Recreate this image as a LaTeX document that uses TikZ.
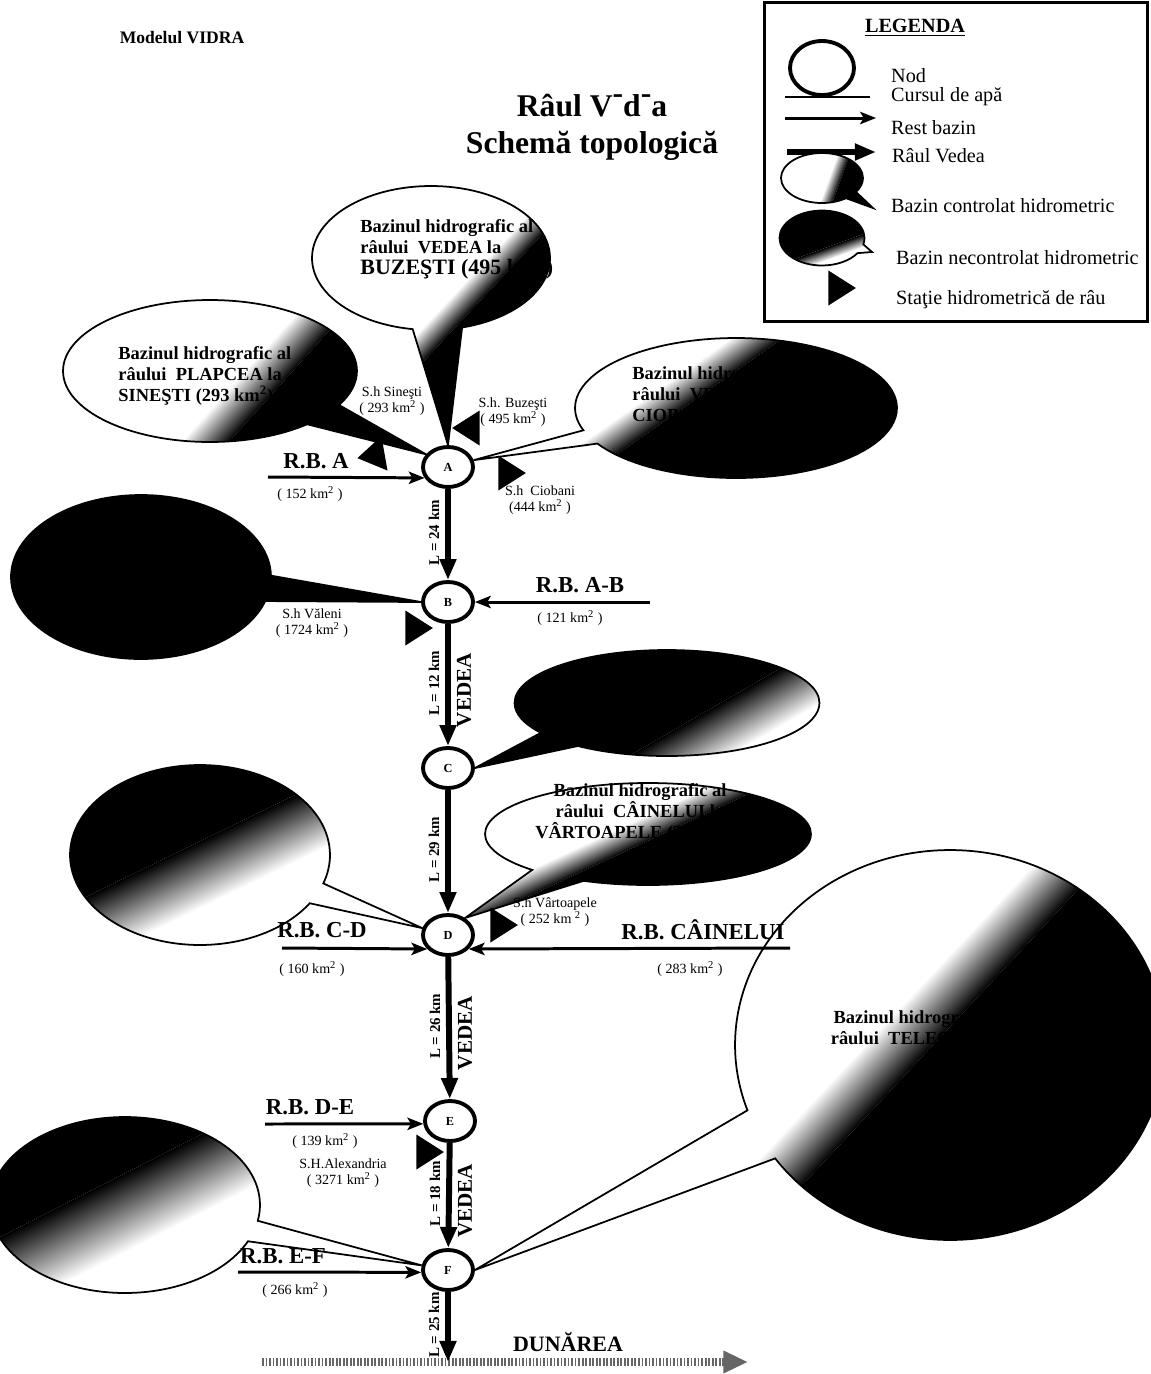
\documentclass[tikz,border=0pt]{standalone}
\usepackage{fontspec}
\setmainfont{Liberation Serif}
\usetikzlibrary{positioning, arrows.meta, shapes.geometric, shapes.callouts, backgrounds}

\begin{document}
\begin{tikzpicture}[x=0.02cm, y=-0.02cm,
  nod/.style={ellipse, draw, line width=2.2pt, fill=white, minimum width=1cm, minimum height=0.8cm, inner sep=0pt, font=\fontsize{7}{8}\selectfont\bfseries},
  river/.style={line width=3.4pt, -{Triangle[length=12pt,width=9pt]}},
  rest/.style={line width=1.7pt, -{Stealth[length=9pt,width=7pt,inset=2pt]}},
  danube/.style={line width=4.5pt, black!60, dash pattern=on 1pt off 1pt, -{Triangle[length=14pt,width=12pt]}},
  basin/.style={ellipse callout, draw, line width=1pt, inner sep=0pt},
  % white part, soft band of half width #3 through #1 turned by #2, black part
  litbasin/.style n args={3}{fill=white, path picture={
    \begin{scope}[transform canvas={rotate around={#2:(#1)}}]
      \shade[left color=white, right color=black] (#1) ++(-#3,-700) rectangle ++(2*#3,1400);
      \fill[black] (#1) ++(#3,-700) rectangle ++(1400,1400);
    \end{scope}}},
  fadebasin/.style n args={3}{fill=white, path picture={
    \begin{scope}[transform canvas={rotate around={#2:(#1)}}]
      \shade[left color=black, right color=white] (#1) ++(-#3,-700) rectangle ++(2*#3,1400);
      \fill[black] (#1) ++(-#3,-700) rectangle ++(-1400,1400);
    \end{scope}}},
  station/.style={isosceles triangle, isosceles triangle stretches, fill=black, inner sep=0pt, minimum width=0.7cm, minimum height=0.55cm},
  rb/.style={font=\fontsize{13}{15}\selectfont\bfseries},
  area/.style={font=\fontsize{8}{9}\selectfont},
  shlabel/.style={font=\fontsize{8}{9.5}\selectfont, align=center},
  dist/.style={rotate=90, font=\fontsize{8.5}{10}\selectfont\bfseries},
  vedea/.style={rotate=90, font=\fontsize{12}{14}\selectfont\bfseries},
  legtext/.style={anchor=west, font=\fontsize{11.5}{13}\selectfont},
  btext/.style={align=left, font=\fontsize{10.5}{12}\selectfont\bfseries, inner sep=0pt}]

  \useasboundingbox (0,0) rectangle (1151,1374);
  \clip (0,0) rectangle (1151,1374);

  % headings
  \node[font=\fontsize{10}{12}\selectfont\bfseries] (model) at (182,38) {Modelul VIDRA};
  \node[font=\bfseries\fontsize{18}{21}\selectfont, align=center] (title) at (592,127)
    {Râul V\raisebox{0.9ex}{-}d\raisebox{0.9ex}{-}a\\Schemă topologică};

  % nodes on the Vedea
  \node[nod] (A) at (448,467) {A};
  \node[nod] (B) at (448,602) {B};
  \node[nod] (C) at (448,768) {C};
  \node[nod] (D) at (448,935) {D};
  \node[nod] (E) at (450,1121) {E};
  \node[nod] (F) at (448,1270) {F};

  % basins
  \begin{scope}[on background layer]
    \coordinate (bdBuzesti) at (500,262);
    \coordinate (bdSinesti) at (265,375);
    \coordinate (bdCiobani) at (690,385);
    \coordinate (bdC) at (715,735);
    \coordinate (bdD) at (230,860);
    \coordinate (bdVartoapele) at (675,815);
    \coordinate (bdTeleorman) at (925,1017);
    \coordinate (bdF) at (130,1210);
    \node[basin, litbasin={bdBuzesti}{-43}{12}, callout pointer arc=24, minimum width=4.76cm, minimum height=2.88cm,
          callout absolute pointer={(A.north)}] (bzBuzesti) at (431,258) {};
    \node[basin, litbasin={bdSinesti}{-42}{18}, callout pointer arc=20, minimum width=5.88cm, minimum height=2.84cm,
          callout absolute pointer={(A.150)}] (bzSinesti) at (210,371) {};
    \node[basin, litbasin={bdCiobani}{-55}{15}, callout pointer arc=12, minimum width=6.44cm, minimum height=2.8cm,
          callout absolute pointer={(A.15)}] (bzCiobani) at (736,408) {};
    \node[basin, fill=black, callout pointer arc=18, minimum width=5.2cm, minimum height=3.28cm,
          callout absolute pointer={(B.west)}] (bzValeni) at (141,577) {};
    \node[basin, fadebasin={bdC}{-60}{25}, callout pointer arc=20, minimum width=6.1cm, minimum height=2.12cm,
          callout absolute pointer={(C.east)}] (bzC) at (667,703) {};
    \node[basin, fadebasin={bdD}{-64}{30}, callout pointer arc=14, minimum width=5.2cm, minimum height=3.6cm,
          callout absolute pointer={(D.165)}] (bzD) at (200,855) {};
    \node[basin, litbasin={bdVartoapele}{-65}{12}, callout pointer arc=22, minimum width=6.52cm, minimum height=2.04cm,
          callout absolute pointer={(D.45)}] (bzVartoapele) at (648,834) {};
    \node[basin, litbasin={bdTeleorman}{-43}{25}, callout pointer arc=16, minimum width=8.6cm, minimum height=7.8cm,
          callout absolute pointer={(F.east)}] (bzTeleorman) at (950,1045) {};
    \node[basin, fadebasin={bdF}{-63}{35}, callout pointer arc=14, minimum width=5.4cm, minimum height=3.52cm,
          callout absolute pointer={(F.170)}] (bzF) at (125,1205) {};
  \end{scope}

  \node[btext, anchor=north west] (txtBuzesti) at (360,219)
    {Bazinul hidrografic al\\râului \ VEDEA la\\{\fontsize{12.5}{14}\selectfont BUZEŞTI (495 km\textsuperscript{2})}};
  \node[btext, anchor=north west] (txtSinesti) at (118,346)
    {Bazinul hidrografic al\\râului \ PLAPCEA la\\SINEŞTI (293 km\textsuperscript{2})};
  \node[btext, anchor=north west] (txtCiobani) at (632,366)
    {Bazinul hidrografic al\\râului \ VEDIŢA la\\CIOBANI (444 km\textsuperscript{2})};
  \node[btext, align=center] (txtVartoapele) at (640,813)
    {Bazinul hidrografic al\\râului \ CÂINELUI la\\VÂRTOAPELE (252 km\textsuperscript{2})};
  \node[btext, align=center] (txtTeleorman) at (920,1028)
    {Bazinul hidrografic al\\râului \ TELEORMAN};

  % the Vedea between nodes
  \draw[river] (A) -- (B) node[dist, midway, above=1pt] {L = 24 km};
  \draw[river] (B) -- (C) node[dist, midway, above=1pt] {L = 12 km} node[vedea, midway, below=3pt] {VEDEA};
  \draw[river] (C) -- (D) node[dist, midway, above=1pt] {L = 29 km};
  \draw[river] (D) -- (E) node[dist, midway, above=1pt] {L = 26 km} node[vedea, midway, below=3pt] {VEDEA};
  \draw[river] (E) -- (F) node[dist, midway, above=1pt] {L = 18 km} node[vedea, midway, below=3pt] {VEDEA};

  % Dunarea
  \coordinate (dunL) at (262,1362);
  \coordinate (dunR) at (748,1362);
  \coordinate (dunF) at (F |- dunL);
  \draw[danube] (dunL) -- (dunR);
  \draw[river] (F) -- (dunF) node[dist, midway, above=1pt] {L = 25 km};
  \node[font=\fontsize{12.5}{14}\selectfont\bfseries] (dun) at (568,1342) {DUNĂREA};

  % rest of basin inflows
  \coordinate (rbA) at (268,477);
  \coordinate (rbAB) at (650,602);
  \coordinate (rbCD) at (282,948);
  \coordinate (rbCai) at (790,948);
  \coordinate (rbDE) at (265,1124);
  \coordinate (rbEF) at (238,1272);
  \draw[rest] (rbA) -- (A.205);
  \draw[rest] (rbAB) -- (B.east);
  \draw[rest] (rbCD) -- (D.214);
  \draw[rest] (rbCai) -- (D.326);
  \draw[rest] (rbDE) -- (E.186);
  \draw[rest] (rbEF) -- (F.185);

  \node[rb] (lA) at (316,461) {R.B. A};
  \node[area] (aA) at (310,494) {( 152 km\textsuperscript{2} )};
  \node[rb] (lAB) at (580,585) {R.B. A-B};
  \node[area] (aAB) at (570,618) {( 121 km\textsuperscript{2} )};
  \node[rb] (lCD) at (322,930) {R.B. C-D};
  \node[area] (aCD) at (312,969) {( 160 km\textsuperscript{2} )};
  \node[rb] (lCai) at (703,930) {R.B. CÂINELUI};
  \node[area] (aCai) at (690,969) {( 283 km\textsuperscript{2} )};
  \node[rb] (lDE) at (310,1107) {R.B. D-E};
  \node[area] (aDE) at (325,1141) {( 139 km\textsuperscript{2} )};
  \node[rb] (lEF) at (283,1256) {R.B. E-F};
  \node[area] (aEF) at (295,1290) {( 266 km\textsuperscript{2} )};

  % gauging stations
  \node[station, rotate=190] (stSinesti) at (375,455) {};
  \node[station, rotate=180] (stBuzesti) at (470,428) {};
  \node[station] (stCiobani) at (508,473) {};
  \node[station] (stValeni) at (415,628) {};
  \node[station] (stVartoapele) at (500,925) {};
  \node[station] (stAlexandria) at (426,1152) {};

  \node[shlabel] (shSinesti) at (392,401) {S.h Sineşti\\( 293 km\textsuperscript{2} )};
  \node[shlabel] (shBuzesti) at (513,412) {S.h. Buzeşti\\( 495 km\textsuperscript{2} )};
  \node[shlabel] (shCiobani) at (540,500) {S.h \ Ciobani\\(444 km\textsuperscript{2} )};
  \node[shlabel] (shValeni) at (312,623) {S.h Văleni\\( 1724 km\textsuperscript{2} )};
  \node[shlabel] (shVartoapele) at (555,912) {S.h Vârtoapele\\( 252 km \textsuperscript{2} )};
  \node[shlabel] (shAlexandria) at (343,1173) {S.H.Alexandria\\( 3271 km\textsuperscript{2} )};

  % legend
  \node[draw, line width=1.7pt, minimum width=7.66cm, minimum height=6.38cm, inner sep=0pt] (legend) at (956,162) {};
  \node[font=\fontsize{11.5}{13}\selectfont\bfseries] (legtitle) at (915,28) {\underline{LEGENDA}};
  \node[nod, minimum width=1.28cm, minimum height=1.08cm] (legnod) at (822,68) {};
  \node[legtext] (tNod) at (885,76) {Nod};
  \coordinate (lcA) at (785,97);
  \coordinate (lcB) at (870,97);
  \draw[line width=0.8pt] (lcA) -- (lcB);
  \node[legtext] (tCurs) at (885,97) {Cursul de apă};
  \coordinate (lrA) at (785,118);
  \coordinate (lrB) at (876,118);
  \draw[rest] (lrA) -- (lrB);
  \node[legtext] (tRest) at (885,128) {Rest bazin};
  \coordinate (lvA) at (787,152);
  \coordinate (lvB) at (876,152);
  \draw[river] (lvA) -- (lvB);
  \node[legtext] (tVedea) at (886,156) {Râul Vedea};
  \coordinate (lbA) at (873,208);
  \coordinate (bdCtl) at (835,178);
  \node[basin, litbasin={bdCtl}{-20}{6}, callout pointer arc=20, minimum width=1.64cm, minimum height=1cm,
        callout absolute pointer={(lbA)}] (legctl) at (822,178) {};
  \node[legtext] (tCtl) at (885,206) {Bazin controlat hidrometric};
  \coordinate (lbB) at (872,252);
  \coordinate (bdNec) at (826,254);
  \node[basin, fadebasin={bdNec}{-70}{6}, callout pointer arc=20, minimum width=1.7cm, minimum height=1.1cm,
        callout absolute pointer={(lbB)}] (legnec) at (822,238) {};
  \node[legtext] (tNec) at (890,258) {Bazin necontrolat hidrometric};
  \node[station] (legst) at (838,288) {};
  \node[legtext] (tSt) at (890,300) {Staţie hidrometrică de râu};
\end{tikzpicture}
\end{document}
